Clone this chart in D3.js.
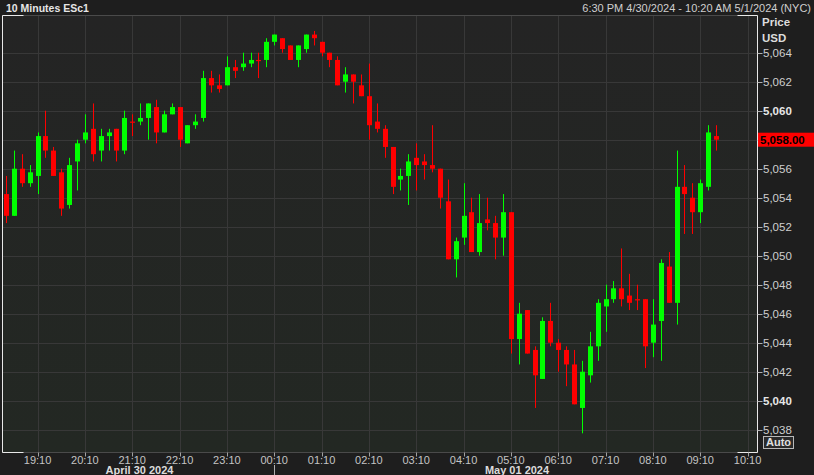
<!DOCTYPE html>
<html>
<head>
<meta charset="utf-8">
<script src="https://cdn.jsdelivr.net/npm/d3@7"></script>
<style>
  html, body { margin: 0; padding: 0; background: #1e1e1e; }
  svg { display: block; }
  text { font-family: "Liberation Sans", Arial, sans-serif; }
</style>
</head>
<body>
<svg id="chart" width="814" height="475"></svg>
<script>
// ---- data ----
const times = ["18:30","18:40","18:50","19:00","19:10","19:20","19:30","19:40","19:50","20:00",
  "20:10","20:20","20:30","20:40","20:50","21:00","21:10","21:20","21:30","21:40",
  "21:50","22:00","22:10","22:20","22:30","22:40","22:50","23:00","23:10","23:20",
  "23:30","23:40","23:50","00:00","00:10","00:20","00:30","00:40","00:50","01:00",
  "01:10","01:20","01:30","01:40","01:50","02:00","02:10","02:20","02:30","02:40",
  "02:50","03:00","03:10","03:20","03:30","03:40","03:50","04:00","04:10","04:20",
  "04:30","04:40","04:50","05:00","05:10","05:20","05:30","05:40","05:50","06:00",
  "06:10","06:20","06:30","06:40","06:50","07:00","07:10","07:20","07:30","07:40",
  "07:50","08:00","08:10","08:20","08:30","08:40","08:50","09:00","09:10","09:20","09:30"];
const opens = [5054.25,5052.75,5056.0,5055.0,5055.5,5058.25,5057.25,5055.75,5053.5,5056.5,
  5058.0,5058.75,5057.25,5058.25,5058.75,5057.25,5059.25,5059.25,5059.5,5060.25,
  5058.5,5059.75,5060.25,5057.75,5059.0,5059.5,5062.25,5061.75,5061.75,5063.0,
  5063.0,5063.25,5063.5,5063.5,5064.75,5065.0,5064.5,5063.5,5064.25,5065.25,
  5064.75,5064.0,5063.5,5062.0,5062.5,5061.75,5061.0,5059.25,5058.75,5057.5,
  5055.25,5055.5,5056.75,5056.5,5056.25,5056.0,5053.75,5049.75,5051.25,5053.0,
  5050.25,5052.5,5052.25,5051.25,5053.0,5044.25,5046.25,5043.5,5041.5,5045.5,
  5044.0,5043.5,5042.5,5039.5,5041.75,5043.75,5046.5,5047.0,5047.75,5047.25,
  5047.0,5047.0,5044.0,5045.5,5049.25,5046.75,5054.75,5054.0,5053.0,5054.75,5058.25];
const highs = [5055.5,5057.25,5057.0,5056.25,5058.5,5060.0,5057.5,5056.0,5056.75,5058.0,
  5059.75,5060.5,5058.75,5058.75,5058.75,5060.0,5059.75,5060.5,5060.5,5060.75,
  5060.0,5060.5,5060.25,5059.0,5059.75,5062.75,5062.75,5062.5,5063.75,5063.5,
  5064.0,5064.0,5064.0,5065.0,5065.25,5065.0,5064.5,5064.5,5065.25,5065.5,
  5064.75,5064.0,5063.75,5063.0,5062.5,5062.5,5063.25,5060.5,5059.0,5057.5,
  5056.0,5057.0,5057.75,5057.0,5059.0,5056.0,5055.25,5051.25,5055.0,5054.0,
  5054.25,5054.0,5052.75,5054.25,5053.0,5046.75,5046.25,5043.75,5045.75,5046.75,
  5044.25,5043.75,5043.5,5042.75,5044.75,5047.0,5048.0,5048.25,5050.5,5048.75,
  5048.0,5047.0,5047.0,5049.75,5050.25,5057.25,5056.25,5055.0,5055.25,5059.0,5059.0];
const lows = [5052.25,5052.75,5054.75,5054.75,5054.25,5056.75,5055.5,5052.75,5053.25,5054.5,
  5057.75,5056.5,5056.5,5057.25,5056.5,5057.0,5058.25,5059.0,5058.0,5057.75,
  5058.5,5059.75,5057.5,5057.75,5058.75,5059.25,5061.25,5061.25,5061.75,5062.25,
  5062.75,5063.0,5062.25,5063.0,5064.5,5064.0,5063.5,5063.0,5064.0,5064.5,
  5063.75,5063.0,5061.75,5061.25,5060.5,5061.0,5058.0,5058.5,5056.75,5054.25,
  5054.5,5053.5,5054.5,5055.25,5055.75,5053.25,5049.75,5048.5,5050.75,5050.25,
  5050.0,5051.75,5049.75,5050.0,5043.25,5042.5,5043.25,5039.5,5041.5,5043.75,
  5042.0,5041.0,5039.75,5037.75,5041.25,5042.75,5044.75,5046.75,5046.5,5046.25,
  5046.25,5042.25,5043.0,5042.75,5046.75,5045.25,5051.5,5051.5,5052.25,5054.5,5057.25];
const closes = [5052.75,5056.0,5055.0,5055.75,5058.25,5057.25,5055.5,5053.25,5056.25,5057.75,
  5058.5,5057.0,5058.25,5058.5,5057.25,5059.5,5059.25,5059.5,5060.5,5058.5,
  5059.75,5060.25,5058.0,5059.0,5059.25,5062.25,5061.75,5061.5,5063.0,5062.75,
  5063.25,5063.5,5063.5,5064.75,5065.25,5064.25,5063.5,5064.5,5065.25,5065.0,
  5064.0,5063.5,5061.75,5062.5,5062.0,5061.0,5059.0,5058.75,5057.5,5054.75,
  5055.5,5056.5,5056.25,5056.25,5056.0,5054.0,5049.75,5051.0,5052.75,5050.25,
  5052.25,5052.25,5051.25,5053.0,5044.25,5046.0,5043.25,5041.75,5045.5,5044.0,
  5043.5,5042.5,5039.75,5042.0,5043.75,5046.75,5047.0,5047.75,5047.0,5046.75,
  5047.0,5043.75,5045.25,5049.5,5046.75,5054.75,5054.25,5053.0,5055.0,5058.5,5058.0];
const priceTicks = [5038,5040,5042,5044,5046,5048,5050,5052,5054,5056,5058,5060,5062,5064];
const timeTickLabels = ["19:10","20:10","21:10","22:10","23:10","00:10","01:10","02:10",
  "03:10","04:10","05:10","06:10","07:10","08:10","09:10","10:10"];
const dateLabels = ["April 30 2024","May 01 2024"];
const titleText = "10 Minutes ESc1";
const rangeText = "6:30 PM 4/30/2024 - 10:20 AM 5/1/2024 (NYC)";
const lastPrice = 5058.00;

// ---- helpers ----
function toDate(hm) {
  const [h, m] = hm.split(":").map(Number);
  const day = h >= 12 ? 30 : 1;
  const month = h >= 12 ? 3 : 4;
  return new Date(2024, month, day, h, m);
}
const candles = times.map((t, i) => ({
  t: toDate(t), o: opens[i], h: highs[i], l: lows[i], c: closes[i]
}));

const plot = { left: 2.5, right: 757.5, top: 15.5, bottom: 452.5 };
const svg = d3.select("#chart");

const x = d3.scaleTime()
  .domain([toDate("18:30"), toDate("09:30")])
  .range([6, 716]);
const y = d3.scaleLinear()
  .domain([5038, 5064])
  .range([429.7, 52.7]);

// background
svg.append("rect").attr("width", 814).attr("height", 475).attr("fill", "#1e1e1e");
const defs = svg.append("defs");
const grad = defs.append("linearGradient").attr("id", "bg").attr("x1", 0).attr("y1", 0).attr("x2", 0).attr("y2", 1);
grad.append("stop").attr("offset", "0%").attr("stop-color", "#242424");
grad.append("stop").attr("offset", "100%").attr("stop-color", "#232823");
svg.append("rect")
  .attr("x", plot.left).attr("y", plot.top)
  .attr("width", plot.right - plot.left).attr("height", plot.bottom - plot.top)
  .attr("fill", "url(#bg)");

defs.append("clipPath").attr("id", "clip").append("rect")
  .attr("x", plot.left).attr("y", plot.top)
  .attr("width", plot.right - plot.left).attr("height", plot.bottom - plot.top);

// gridlines
const grid = svg.append("g").attr("clip-path", "url(#clip)");
const tickDates = timeTickLabels.map(toDate);
grid.selectAll("line.vg").data(tickDates).join("line")
  .attr("class", "vg")
  .attr("x1", d => Math.round(x(d)) + 0.5).attr("x2", d => Math.round(x(d)) + 0.5)
  .attr("y1", plot.top).attr("y2", plot.bottom)
  .attr("stroke", "#383838").attr("stroke-width", 1);
grid.selectAll("line.hg").data(priceTicks).join("line")
  .attr("class", "hg")
  .attr("x1", plot.left).attr("x2", plot.right)
  .attr("y1", d => Math.round(y(d)) + 0.5).attr("y2", d => Math.round(y(d)) + 0.5)
  .attr("stroke", "#383838").attr("stroke-width", 1);

// candles
const cg = svg.append("g").attr("clip-path", "url(#clip)");
const up = "#00ff00", down = "#ff0000";
const col = d => d.c > d.o ? up : down;
cg.selectAll("line.wick").data(candles).join("line")
  .attr("class", "wick")
  .attr("x1", d => Math.round(x(d.t)) + 0.5).attr("x2", d => Math.round(x(d.t)) + 0.5)
  .attr("y1", d => y(d.h)).attr("y2", d => y(d.l))
  .attr("stroke", col).attr("stroke-width", 1);
cg.selectAll("rect.body").data(candles).join("rect")
  .attr("class", "body")
  .attr("x", d => Math.round(x(d.t)) - 2)
  .attr("width", 5)
  .attr("y", d => y(Math.max(d.o, d.c)))
  .attr("height", d => Math.max(1.2, Math.abs(y(d.o) - y(d.c))))
  .attr("fill", col);

// plot frame
svg.append("line").attr("x1", plot.left).attr("x2", plot.right).attr("y1", plot.top).attr("y2", plot.top).attr("stroke", "#4a4a4a");
svg.append("line").attr("x1", plot.left).attr("x2", plot.right).attr("y1", plot.bottom).attr("y2", plot.bottom).attr("stroke", "#4a4a4a");
svg.append("line").attr("x1", plot.left).attr("x2", plot.left).attr("y1", plot.top).attr("y2", plot.bottom).attr("stroke", "#e8e8e8");
svg.append("line").attr("x1", plot.right).attr("x2", plot.right).attr("y1", plot.top).attr("y2", plot.bottom).attr("stroke", "#e8e8e8");
[[plot.left, plot.left + 21], [plot.right - 20, plot.right]].forEach(([a, b]) => {
  svg.append("line").attr("x1", a).attr("x2", b).attr("y1", plot.top).attr("y2", plot.top).attr("stroke", "#e8e8e8");
  svg.append("line").attr("x1", a).attr("x2", b).attr("y1", plot.bottom).attr("y2", plot.bottom).attr("stroke", "#e8e8e8");
});

// right price axis (the label under the last-price tag is hidden by the tag)
const ya = svg.append("g");
ya.selectAll("line").data(priceTicks).join("line")
  .attr("x1", plot.right).attr("x2", plot.right + 5)
  .attr("y1", d => Math.round(y(d)) + 0.5).attr("y2", d => Math.round(y(d)) + 0.5)
  .attr("stroke", "#b0b0b0");
ya.selectAll("text").data(priceTicks.filter(d => Math.abs(y(d) - y(lastPrice)) > 10)).join("text")
  .attr("x", 763).attr("y", d => y(d)).attr("dy", "0.35em")
  .attr("font-size", "11.5px")
  .attr("font-weight", d => d % 20 === 0 ? "bold" : "normal")
  .attr("fill", d => d % 20 === 0 ? "#e6e6e6" : "#cfcfcf")
  .text(d => d3.format(",")(d));

svg.append("text").attr("x", 762).attr("y", 26).attr("font-size", "11.5px").attr("font-weight", "bold").attr("fill", "#dcdcdc").text("Price");
svg.append("text").attr("x", 762).attr("y", 42).attr("font-size", "11.5px").attr("font-weight", "bold").attr("fill", "#dcdcdc").text("USD");

// last price tag
svg.append("rect").attr("x", 758).attr("y", y(lastPrice) - 7).attr("width", 56).attr("height", 14).attr("fill", "#ff0000");
svg.append("text").attr("x", 760).attr("y", y(lastPrice)).attr("dy", "0.36em")
  .attr("font-size", "11.5px").attr("font-weight", "bold").attr("fill", "#000")
  .text(d3.format(",.2f")(lastPrice));

// Auto button
svg.append("rect").attr("x", 763.5).attr("y", 436.5).attr("width", 30).attr("height", 12)
  .attr("fill", "#2a2a2a").attr("stroke", "#b8b8b8");
svg.append("text").attr("x", 778.5).attr("y", 442.5).attr("dy", "0.36em").attr("text-anchor", "middle")
  .attr("font-size", "11px").attr("font-weight", "bold").attr("fill", "#e0e0e0").text("Auto");

// bottom time axis
const xa = svg.append("g");
xa.selectAll("line").data(tickDates).join("line")
  .attr("x1", d => Math.round(x(d)) + 0.5).attr("x2", d => Math.round(x(d)) + 0.5)
  .attr("y1", plot.bottom).attr("y2", plot.bottom + 4)
  .attr("stroke", "#a0a0a0");
xa.selectAll("text").data(tickDates).join("text")
  .attr("x", d => x(d)).attr("y", 460).attr("dy", "0.35em")
  .attr("text-anchor", "middle").attr("font-size", "11px").attr("fill", "#c4c4c4")
  .text(d => d3.timeFormat("%H:%M")(d));

// day separator and date labels
const midnightX = Math.round(x(toDate("00:10"))) + 0.5;
svg.append("line").attr("x1", midnightX).attr("x2", midnightX).attr("y1", 465).attr("y2", 475).attr("stroke", "#b0b0b0");
svg.append("text").attr("x", (plot.left + midnightX) / 2 + 1).attr("y", 470.5).attr("dy", "0.35em")
  .attr("text-anchor", "middle").attr("font-size", "11px").attr("font-weight", "bold").attr("fill", "#dcdcdc")
  .text(dateLabels[0]);
svg.append("text").attr("x", (midnightX + plot.right) / 2 + 1).attr("y", 470.5).attr("dy", "0.35em")
  .attr("text-anchor", "middle").attr("font-size", "11px").attr("font-weight", "bold").attr("fill", "#dcdcdc")
  .text(dateLabels[1]);

// header
svg.append("text").attr("x", 6).attr("y", 8).attr("dy", "0.36em")
  .attr("font-size", "10.5px").attr("font-weight", "bold").attr("fill", "#e6e6e6").text(titleText);
svg.append("text").attr("x", 811).attr("y", 8).attr("dy", "0.36em").attr("text-anchor", "end")
  .attr("font-size", "11px").attr("fill", "#cfcfcf").text(rangeText);
</script>
</body>
</html>
